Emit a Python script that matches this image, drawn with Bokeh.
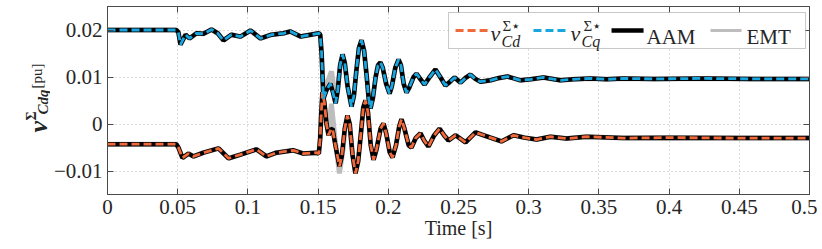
from math import pi
from bokeh.plotting import figure
from bokeh.layouts import row
from bokeh.models import (Range1d, FixedTicker, LinearAxis, CustomJSTickFormatter,
                          BoxAnnotation, Arrow, Label)
from bokeh.embed import file_html
from bokeh.resources import INLINE

# ---------------- data ----------------
# q-axis (blue) AAM
t_q = [0.0, 0.049, 0.0505, 0.052, 0.0535, 0.0556, 0.0584, 0.0634, 0.0684, 0.0741, 0.0785,
       0.0826, 0.0883, 0.0947, 0.1019, 0.109, 0.1168, 0.1254, 0.1303, 0.1375, 0.1446,
       0.1505, 0.1515, 0.1525, 0.1538, 0.156, 0.1588, 0.1605, 0.1624, 0.164, 0.1657, 0.1674,
       0.169, 0.171, 0.1738, 0.1755, 0.1773, 0.1791, 0.1809, 0.1828, 0.1845, 0.186, 0.1873,
       0.189, 0.191, 0.1927, 0.1944, 0.196, 0.1985, 0.2009, 0.2025, 0.205, 0.2073, 0.209,
       0.211, 0.213, 0.215, 0.218, 0.2201, 0.223, 0.2258, 0.229, 0.2336, 0.237, 0.2407,
       0.244, 0.2472, 0.2514, 0.255, 0.2585, 0.262, 0.2657, 0.2728, 0.279, 0.2849, 0.2942,
       0.3013, 0.3105, 0.3226, 0.3319, 0.344, 0.3554, 0.3675, 0.389, 0.425, 0.46, 0.5]
v_q = [0.0200, 0.0200, 0.0195, 0.0169, 0.0178, 0.0190, 0.0182, 0.0193, 0.0192, 0.0201, 0.0193,
       0.0178, 0.0190, 0.0186, 0.0199, 0.0182, 0.0190, 0.0193, 0.0197, 0.0186, 0.0190,
       0.0193, 0.0190, 0.0150, 0.0054, 0.0072, 0.0086, 0.0068, 0.0044, 0.0072, 0.0125, 0.0148,
       0.0130, 0.0080, 0.0037, 0.0060, 0.0115, 0.0162, 0.0178, 0.0155, 0.0105, 0.0055, 0.0033,
       0.0055, 0.0100, 0.0125, 0.0131, 0.0120, 0.0085, 0.0065, 0.0080, 0.0120, 0.0137, 0.0125,
       0.0085, 0.0067, 0.0078, 0.0100, 0.0107, 0.0095, 0.0084, 0.0098, 0.0116, 0.0100, 0.0082,
       0.0090, 0.0099, 0.0088, 0.0098, 0.0105, 0.0096, 0.0090, 0.0093, 0.0098, 0.0101, 0.0093,
       0.0095, 0.0099, 0.0093, 0.0095, 0.0097, 0.0095, 0.0097, 0.0096, 0.0097, 0.0096, 0.0096]

# d-axis (orange) AAM
t_d = [0.0, 0.049, 0.0505, 0.0534, 0.0577, 0.0613, 0.0684, 0.0791, 0.0862, 0.0947, 0.1061,
       0.1132, 0.1203, 0.1325, 0.1396, 0.1489, 0.1505, 0.1515, 0.1522, 0.1531, 0.1545,
       0.1560, 0.1574, 0.1590, 0.1603, 0.1620, 0.1652, 0.1668, 0.1690, 0.1709, 0.1725,
       0.1745, 0.1766, 0.1785, 0.1805, 0.1822, 0.1838, 0.1855, 0.1875, 0.1895, 0.1915,
       0.1945, 0.1966, 0.1985, 0.2010, 0.2030, 0.2055, 0.2078, 0.2094, 0.2115, 0.2145,
       0.2165, 0.2195, 0.2229, 0.2255, 0.2286, 0.2325, 0.2365, 0.2400, 0.2429, 0.2479,
       0.2550, 0.2621, 0.2680, 0.2728, 0.2806, 0.2892, 0.2970, 0.3056, 0.3155, 0.3269,
       0.3412, 0.3675, 0.4000, 0.4500, 0.5000]
v_d = [-0.0043, -0.0043, -0.0050, -0.0072, -0.0063, -0.0069, -0.0061, -0.0052, -0.0073, -0.0065, -0.0054,
       -0.0069, -0.0061, -0.0056, -0.0063, -0.0061, -0.0063, -0.0030, 0.0020, 0.0068, 0.0045,
       0.0000, -0.0024, -0.0012, -0.0010, -0.0040, -0.0090, -0.0070, -0.0010, 0.0018, 0.0000,
       -0.0065, -0.0105, -0.0080, -0.0020, 0.0035, 0.0050, 0.0025, -0.0045, -0.0076, -0.0055,
       -0.0010, 0.0001, -0.0020, -0.0060, -0.0071, -0.0045, -0.0005, 0.0010, -0.0010, -0.0045,
       -0.0050, -0.0030, -0.0020, -0.0035, -0.0048, -0.0025, -0.0010, -0.0025, -0.0035, -0.0024,
       -0.0039, -0.0018, -0.0024, -0.0029, -0.0037, -0.0024, -0.0029, -0.0033, -0.0027, -0.0031,
       -0.0027, -0.0030, -0.0029, -0.0030, -0.0030]

# EMT: where it departs from AAM during the first oscillations
emt_q_t = [0.1538, 0.1565, 0.1595, 0.1612, 0.1628]
emt_q_v = [0.0058, 0.0088, 0.0112, 0.0080, 0.0046]
emt_d_t = [0.1555, 0.1572, 0.1595, 0.1620, 0.1652, 0.1680]
emt_d_v = [0.0005, -0.0012, 0.0043, -0.0030, -0.0105, -0.0050]

x_ticks = [0, 0.05, 0.1, 0.15, 0.2, 0.25, 0.3, 0.35, 0.4, 0.45, 0.5]
x_tick_labels = ["0", "0.05", "0.1", "0.15", "0.2", "0.25", "0.3", "0.35", "0.4", "0.45", "0.5"]
y_ticks = [-0.01, 0, 0.01, 0.02]
y_tick_labels = ["\u22120.01", "0", "0.01", "0.02"]


def splice(t_a, v_a, t_e, v_e):
    lo, hi = t_e[0], t_e[-1]
    tt = [t for t in t_a if t < lo] + t_e + [t for t in t_a if t > hi]
    vv = [v for t, v in zip(t_a, v_a) if t < lo] + v_e + [v for t, v in zip(t_a, v_a) if t > hi]
    return tt, vv


t_q_emt, v_q_emt = splice(t_q, v_q, emt_q_t, emt_q_v)
t_d_emt, v_d_emt = splice(t_d, v_d, emt_d_t, emt_d_v)

# ---------------- styling ----------------
FONT = "'Liberation Serif', 'DejaVu Serif', serif"
C_D = "#f0693a"
C_Q = "#19a6de"
C_EMT = "#bdbdbd"
C_AX = "#4a4a4a"
C_TXT = "#262626"

p = figure(frame_width=702, frame_height=188,
           x_range=Range1d(0, 0.5), y_range=Range1d(-0.015, 0.025),
           output_backend="svg", toolbar_location=None,
           min_border_left=54, min_border_right=8, min_border_top=6, min_border_bottom=47,
           background_fill_color="white", border_fill_color="white")

# curves
p.line(t_q_emt, v_q_emt, line_color=C_EMT, line_width=5)
p.line(t_d_emt, v_d_emt, line_color=C_EMT, line_width=5)
p.line(t_q, v_q, line_color="black", line_width=4.5)
p.line(t_d, v_d, line_color="black", line_width=4.5)
p.line(t_d, v_d, line_color=C_D, line_width=2.8, line_dash="8 4")
p.line(t_q, v_q, line_color=C_Q, line_width=2.8, line_dash="8 4")

xt = FixedTicker(ticks=x_ticks, minor_ticks=[])
yt = FixedTicker(ticks=y_ticks, minor_ticks=[])
fmt_code = "const i = tv.findIndex(t => Math.abs(t - tick) < 1e-9); return i >= 0 ? tl[i] : '';"
xfmt = CustomJSTickFormatter(args=dict(tv=x_ticks, tl=x_tick_labels), code=fmt_code)
yfmt = CustomJSTickFormatter(args=dict(tv=y_ticks, tl=y_tick_labels), code=fmt_code)
blank = CustomJSTickFormatter(code="return '';")


def style_axis(ax, ticker, fmt, show_labels):
    ax.ticker = ticker
    ax.formatter = fmt if show_labels else blank
    ax.axis_line_color = C_AX
    ax.major_tick_line_color = C_AX
    ax.major_tick_in = 6
    ax.major_tick_out = 0
    ax.minor_tick_line_color = None
    ax.major_label_text_font = FONT
    ax.major_label_text_color = C_TXT
    ax.major_label_text_font_size = "21px"
    ax.major_label_standoff = 5 if show_labels else 0


style_axis(p.xaxis[0], xt, xfmt, True)
style_axis(p.yaxis[0], yt, yfmt, True)
p.xaxis[0].axis_label = "Time [s]"
p.xaxis[0].axis_label_text_font = FONT
p.xaxis[0].axis_label_text_font_size = "20px"
p.xaxis[0].axis_label_text_font_style = "normal"
p.xaxis[0].axis_label_text_color = C_TXT
p.xaxis[0].axis_label_standoff = 0

top_ax = LinearAxis()
style_axis(top_ax, xt, xfmt, False)
p.add_layout(top_ax, "above")
right_ax = LinearAxis()
style_axis(right_ax, yt, yfmt, False)
p.add_layout(right_ax, "right")

p.xgrid.ticker = xt
p.ygrid.ticker = yt
p.grid.grid_line_color = "#b8b8b8"
p.grid.grid_line_dash = "1 3"
p.grid.grid_line_width = 1
p.outline_line_color = C_AX

# legend (hand-built so the math labels can carry super/subscripts)
p.add_layout(BoxAnnotation(left=0.2429, right=0.4972, top=0.02372, bottom=0.01606,
                           fill_color="white", fill_alpha=1, line_color=C_AX, line_width=1,
                           level="annotation"))
samples = [(0.2479, 0.2714, C_D, 2.8, "8 4"), (0.3034, 0.3269, C_Q, 2.8, "8 4"),
           (0.3590, 0.3818, "black", 4.5, "solid"), (0.4295, 0.4516, C_EMT, 3, "solid")]
for x0, x1, col, w, dash in samples:
    p.add_layout(Arrow(end=None, x_start=x0, y_start=0.01989, x_end=x1, y_end=0.01989,
                       line_color=col, line_width=w, line_dash=dash))
leg_txt = [("v", "italic", "22px", 0.2728, 0.01926), ("\u03a3\u22c6", "normal", "15px", 0.2813, 0.02080),
           ("Cd", "italic", "16px", 0.2806, 0.01745),
           ("v", "italic", "22px", 0.3298, 0.01926), ("\u03a3\u22c6", "normal", "15px", 0.3390, 0.02080),
           ("Cq", "italic", "16px", 0.3376, 0.01745),
           ("AAM", "normal", "21px", 0.3839, 0.01860), ("EMT", "normal", "21px", 0.4551, 0.01860)]
for txt, style, size, x, y in leg_txt:
    p.add_layout(Label(x=x, y=y, text=txt, text_font=FONT, text_font_style=style,
                       text_font_size=size, text_color=C_TXT, text_align="left",
                       text_baseline="alphabetic"))

# y-axis title: a narrow panel to the left (its frame lines up with the main frame,
# 188 px tall), holding the rotated, mixed-style label; units are pixels
fl = figure(width=50, height=241, x_range=Range1d(0, 50), y_range=Range1d(0, 188),
            output_backend="svg", toolbar_location=None, min_border=0,
            min_border_left=0, min_border_right=0, min_border_top=0, min_border_bottom=0,
            x_axis_type=None, y_axis_type=None, outline_line_color=None,
            background_fill_color="white", border_fill_color="white")
ylab = [("v", "bold italic", "26px", 38, 62),
        ("\u03a3", "bold", "14px", 31, 74),
        ("Cdq", "bold italic", "15px", 42, 80),
        ("[pu]", "normal", "15px", 36, 106)]
for txt, style, size, x, y in ylab:
    fl.add_layout(Label(x=x, y=y, text=txt, angle=pi / 2, angle_units="rad", text_font=FONT,
                        text_font_style=style, text_font_size=size, text_color=C_TXT,
                        text_align="left", text_baseline="alphabetic"))

layout = row(fl, p)
open("out.html", "w").write(file_html(layout, INLINE))
